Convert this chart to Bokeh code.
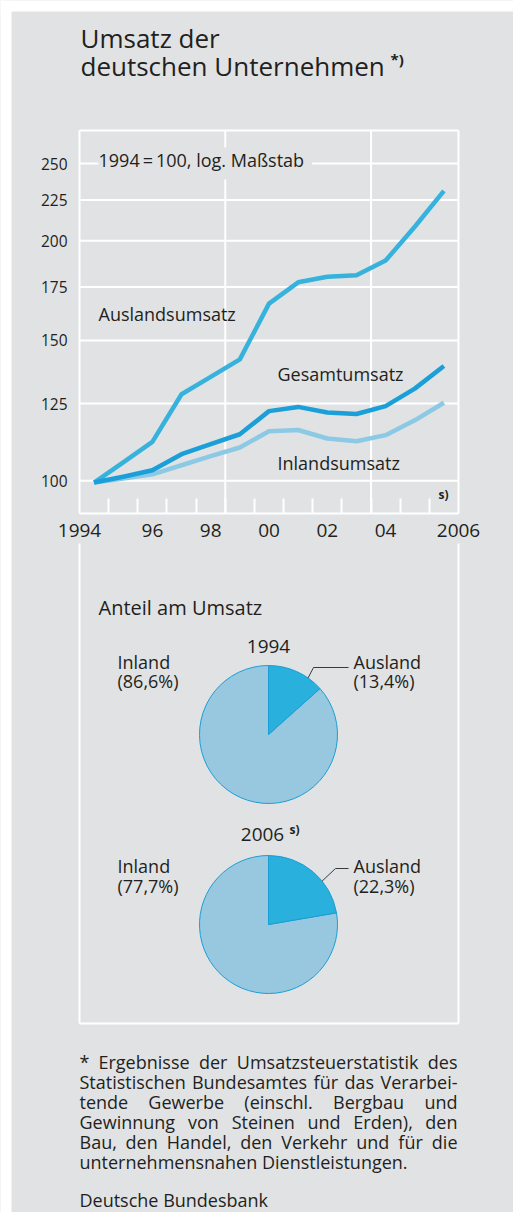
import math
from bokeh.plotting import figure
from bokeh.models import Range1d, LinearScale, FixedTicker, LinearAxis, Label
from bokeh.core.properties import value
from bokeh.embed import file_html
from bokeh.resources import INLINE

# ---------------- data ----------------
years = list(range(1994, 2007))
auslandsumsatz = [99.5, 105.5, 111.9, 128.4, 135.0, 142.0, 166.8, 177.4, 180.3, 181.0, 188.9, 208.3, 231.0]
gesamtumsatz = [99.5, 101.2, 103.1, 108.0, 111.2, 114.4, 122.3, 123.8, 121.8, 121.3, 124.1, 130.5, 139.3]
inlandsumsatz = [99.5, 100.7, 101.9, 104.6, 107.4, 110.1, 115.4, 115.8, 113.0, 112.1, 114.1, 119.1, 125.3]

y_ticks = [100, 125, 150, 175, 200, 225, 250]
x_tick_pos = [1994, 1996.5, 1998.5, 2000.5, 2002.5, 2004.5, 2007]
x_tick_labels = ["1994", "96", "98", "00", "02", "04", "2006"]
x_grid = [1999, 2004]

pie_titles = ["1994", "2006"]
ausland_share = [13.4, 22.3]
inland_share = [86.6, 77.7]
ausland_pct = ["(13,4%)", "(22,3%)"]
inland_pct = ["(86,6%)", "(77,7%)"]

foot_lines = [
    "* Ergebnisse der Umsatzsteuerstatistik des",
    "Statistischen Bundesamtes für das Verarbei-",
    "tende Gewerbe (einschl. Bergbau und",
    "Gewinnung von Steinen und Erden), den",
    "Bau, den Handel, den Verkehr und für die",
    "unternehmensnahen Dienstleistungen.",
]
source_text = "Deutsche Bundesbank"

# ---------------- layout / style ----------------
W, H = 513, 1212
FONT = "Open Sans"
TXT = "#231f20"
BG = "#e1e2e4"
GRID = "#ffffff"
C_AUS = "#36b2dd"
C_GES = "#1a9fd8"
C_INL = "#8cc9e5"
P_AUS = "#29b0dc"
P_INL = "#98c8e0"
P_OUT = "#1a9ed6"

CL, CR, CT, CB = 79, 458, 130, 513
X_FIRST, X_LAST = 1994, 2007
V_LO, V_HI = 91.0, 275.0

ppy = (CR - CL) / (X_LAST - X_FIRST)
k = math.log(V_HI / V_LO) / (CB - CT)
x_start = X_FIRST - CL / ppy
x_end = X_LAST + (W - CR) / ppy
y_start = V_LO * math.exp(-(H - CB) * k)
y_end = V_HI * math.exp(CT * k)

p = figure(width=W, height=H,
           x_range=Range1d(x_start, x_end), y_range=Range1d(y_start, y_end),
           y_axis_type="log", x_axis_location=None, y_axis_location=None,
           toolbar_location=None, output_backend="svg", min_border=0)
p.background_fill_color = BG
p.border_fill_color = "white"
p.outline_line_color = None
for g in p.xgrid + p.ygrid:
    g.visible = False

p.extra_x_ranges = {"px": Range1d(0, W)}
p.extra_y_ranges = {"py": Range1d(H, 0)}
p.extra_x_scales = {"px": LinearScale()}
p.extra_y_scales = {"py": LinearScale()}
PX = dict(x_range_name="px", y_range_name="py")
F = value(FONT)

# white page margin (top / left)
p.quad(left=[0, 0], right=[W, 11], top=[0, 0], bottom=[11, H],
       fill_color="white", line_color=None, **PX)

# title
p.text(x=[80, 80], y=[37, 65], text=["Umsatz der", "deutschen Unternehmen"],
       text_font=F, text_font_size="26px", text_color=TXT, text_baseline="alphabetic", **PX)
p.text(x=[390], y=[58], text=["*)"], text_font=F, text_font_size="15px",
       text_font_style="bold", text_color=TXT, text_baseline="alphabetic", **PX)

# chart grid and frame
p.segment(x0=X_FIRST, x1=X_LAST, y0=y_ticks + [V_HI], y1=y_ticks + [V_HI],
          line_color=GRID, line_width=2)
p.segment(x0=[X_FIRST] + x_grid + [X_LAST], x1=[X_FIRST] + x_grid + [X_LAST],
          y0=V_LO, y1=V_HI, line_color=GRID, line_width=2)
# panel frame below the chart
p.segment(x0=[CL, CR, CL], x1=[CL, CR, CR], y0=[543, 543, 1023], y1=[1023, 1023, 1023],
          line_color=GRID, line_width=2, **PX)

# series
xm = [y + 0.5 for y in years]
p.line(xm, inlandsumsatz, line_color=C_INL, line_width=4.5, line_join="round")
p.line(xm, auslandsumsatz, line_color=C_AUS, line_width=4.5, line_join="round")
p.line(xm, gesamtumsatz, line_color=C_GES, line_width=4.5, line_join="round")

p.text(x=[98, 277, 277], y=[313, 373, 462],
       text=["Auslandsumsatz", "Gesamtumsatz", "Inlandsumsatz"],
       text_font=F, text_font_size="18px", text_color=TXT, text_baseline="middle", **PX)
p.text(x=[443], y=[494], text=["s)"], text_font=F, text_font_size="12px",
       text_font_style="bold", text_color=TXT, text_align="center", text_baseline="middle", **PX)

lab = Label(x=98, y=163, text="1994\u2009=\u2009100, log. Maßstab", text_font=FONT,
            text_font_size="18px", text_color=TXT, text_baseline="middle",
            background_fill_color=BG, x_range_name="px", y_range_name="py")
try:
    lab.padding = (0, 8, 0, 8)
except Exception:
    pass
p.add_layout(lab)

# axes
xax = LinearAxis(ticker=FixedTicker(ticks=x_tick_pos, minor_ticks=years[1:]),
                 fixed_location=V_LO, bounds=(X_FIRST - 0.001, X_LAST + 0.001),
                 major_label_overrides={t: l for t, l in zip(x_tick_pos, x_tick_labels)})
xax.axis_line_color = GRID
xax.axis_line_width = 2
xax.major_tick_line_color = None
xax.major_tick_in = 0
xax.major_tick_out = 0
xax.minor_tick_line_color = GRID
xax.minor_tick_line_width = 2
xax.minor_tick_in = 15
xax.minor_tick_out = 0
xax.major_label_standoff = 10
xax.major_label_text_font = FONT
xax.major_label_text_font_size = "19px"
xax.major_label_text_color = TXT
p.add_layout(xax, "below")

yax = LinearAxis(ticker=FixedTicker(ticks=y_ticks), fixed_location=X_FIRST)
yax.axis_line_color = None
yax.major_tick_line_color = None
yax.minor_tick_line_color = None
yax.major_tick_in = 0
yax.major_tick_out = 0
yax.major_label_standoff = 12
yax.major_label_text_font = FONT
yax.major_label_text_font_size = "15.5px"
yax.major_label_text_color = TXT
p.add_layout(yax, "left")

# ---------------- pies ----------------
pie_cx = 268
pie_cy = [734, 924]
pie_r = 69
a_start = [math.pi / 2 - 2 * math.pi * s / 100 for s in ausland_share]
a_end = [math.pi / 2 for s in ausland_share]
i_start = [math.pi / 2 for s in inland_share]
i_end = [math.pi / 2 + 2 * math.pi * s / 100 for s in inland_share]
p.wedge(x=pie_cx, y=pie_cy, radius=pie_r, start_angle=i_start, end_angle=i_end,
        fill_color=P_INL, line_color=P_OUT, line_width=1, **PX)
p.wedge(x=pie_cx, y=pie_cy, radius=pie_r, start_angle=a_start, end_angle=a_end,
        fill_color=P_AUS, line_color=P_OUT, line_width=1, **PX)

leader_angle = [35, 51]
elbow = [(313, 667), (335, 868)]
lx, ly = [], []
for cy, ang, (ex, ey) in zip(pie_cy, leader_angle, elbow):
    px0 = pie_cx + pie_r * math.sin(math.radians(ang))
    py0 = cy - pie_r * math.cos(math.radians(ang))
    lx.append([px0, ex, 348])
    ly.append([py0, ey, ey])
p.multi_line(xs=lx, ys=ly, line_color="#3a3a3a", line_width=1, **PX)

p.text(x=[98], y=[607], text=["Anteil am Umsatz"], text_font=F, text_font_size="20px",
       text_color=TXT, text_baseline="middle", **PX)
p.text(x=[268, 262], y=[646, 834], text=pie_titles, text_font=F, text_font_size="19px",
       text_color=TXT, text_align="center", text_baseline="middle", **PX)
p.text(x=[289], y=[829], text=["s)"], text_font=F, text_font_size="12px",
       text_font_style="bold", text_color=TXT, text_baseline="middle", **PX)
p.text(x=[117, 117], y=[661, 865], text=["Inland", "Inland"], text_font=F, text_font_size="18px",
       text_color=TXT, text_baseline="middle", **PX)
p.text(x=[117, 117], y=[680, 885], text=inland_pct, text_font=F, text_font_size="18px",
       text_color=TXT, text_baseline="middle", **PX)
p.text(x=[353, 353], y=[661, 865], text=["Ausland", "Ausland"], text_font=F, text_font_size="18px",
       text_color=TXT, text_baseline="middle", **PX)
p.text(x=[353, 353], y=[680, 885], text=ausland_pct, text_font=F, text_font_size="18px",
       text_color=TXT, text_baseline="middle", **PX)

# ---------------- footnote (justified) ----------------
OS_W = {' ': 532, '*': 1100, '(': 608, ')': 608, ',': 502, '-': 659, '.': 545, '%': 1708,
        'A': 1296, 'B': 1327, 'C': 1292, 'D': 1493, 'E': 1139, 'F': 1057, 'G': 1491, 'H': 1511,
        'I': 571, 'K': 1257, 'L': 1073, 'M': 1849, 'N': 1544, 'O': 1595, 'P': 1233, 'R': 1266,
        'S': 1124, 'T': 1126, 'U': 1491, 'V': 1212, 'W': 1883,
        'a': 1139, 'b': 1255, 'c': 975, 'd': 1255, 'e': 1149, 'f': 694, 'g': 1122, 'h': 1257,
        'i': 518, 'j': 518, 'k': 1075, 'l': 518, 'm': 1905, 'n': 1257, 'o': 1237, 'p': 1255,
        'q': 1255, 'r': 836, 's': 977, 't': 723, 'u': 1257, 'v': 1026, 'w': 1593, 'x': 1073,
        'y': 1028, 'z': 977, 'ü': 1257, 'ä': 1139, 'ö': 1237, 'ß': 1245}
FS = 18
FL, FR = 79, 457
def tw(s):
    return sum(OS_W.get(c, 1150) for c in s) / 2048 * FS

wx, wy, wt = [], [], []
rx, ry, rt = [], [], []
base = 1061
for li, line in enumerate(foot_lines):
    yb = base + 20 * li
    words = line.split(" ")
    if li == len(foot_lines) - 1:
        wx.append(FL); wy.append(yb); wt.append(line)
        continue
    widths = [tw(w) for w in words]
    gap = (FR - FL - sum(widths)) / (len(words) - 1)
    xcur = FL
    for wi, (w, ww) in enumerate(zip(words, widths)):
        if wi == len(words) - 1:
            rx.append(FR); ry.append(yb); rt.append(w)
        else:
            wx.append(xcur); wy.append(yb); wt.append(w)
        xcur += ww + gap
wx.append(FL); wy.append(1199); wt.append(source_text)
p.text(x=wx, y=wy, text=wt, text_font=F, text_font_size=f"{FS}px", text_color=TXT,
       text_baseline="alphabetic", **PX)
p.text(x=rx, y=ry, text=rt, text_font=F, text_font_size=f"{FS}px", text_color=TXT,
       text_align="right", text_baseline="alphabetic", **PX)

open("out.html", "w").write(file_html(p, INLINE))
